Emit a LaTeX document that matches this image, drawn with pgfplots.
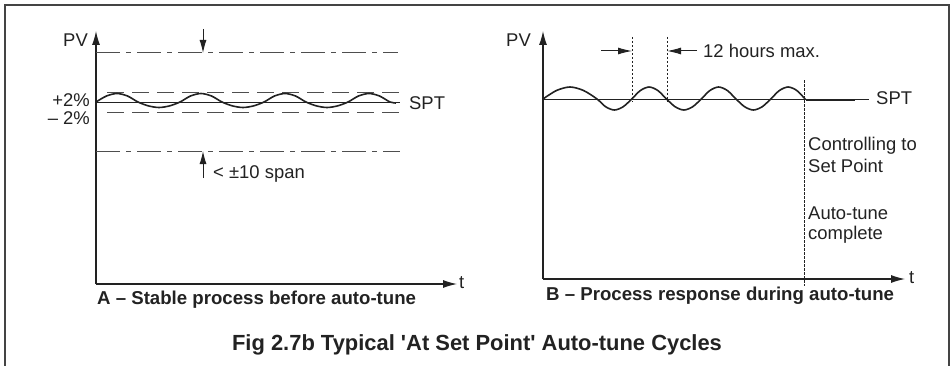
\documentclass[border=0pt]{standalone}
\usepackage{pgfplots}
\pgfplotsset{compat=1.18}
\usetikzlibrary{arrows.meta}
\usepackage{fontspec}
\setmainfont{Liberation Sans}
\definecolor{ink}{HTML}{222222}
\definecolor{frame}{HTML}{444444}
\newcommand\rg{\fontsize{18.5}{22}\selectfont}
\newcommand\bd{\fontsize{18.7}{22}\selectfont\bfseries}
\newcommand\bdl{\fontsize{22}{26}\selectfont\bfseries}
\begin{document}
\begin{tikzpicture}
\begin{axis}[at={(0,0)}, anchor=south west, scale only axis,
  width=952bp, height=366bp, xmin=0, xmax=952, ymin=0, ymax=366,
  y dir=reverse, hide axis, clip=false]
% frame
\addplot[draw=frame, line width=1.5bp] coordinates {(5,372) (5,5) (949,5) (949,372)};

% ---------------- Panel A ----------------
% axes
\addplot[draw=ink, line width=1.1bp, -{Latex[length=14bp,width=8bp]}] coordinates {(96,284) (96,31)};
\addplot[draw=ink, line width=1.1bp, -{Latex[length=14bp,width=8bp]}] coordinates {(96,284) (457,284)};
% dash-dot limits
\addplot[draw=ink!80, line width=1bp, dash pattern=on 24bp off 6bp on 5bp off 6bp] coordinates {(96,53) (398,53)};
\addplot[draw=ink!80, line width=1bp, dash pattern=on 24bp off 6bp on 5bp off 6bp] coordinates {(96,151) (400,151)};
% +/-2% dashed
\addplot[draw=ink!80, line width=1bp, dash pattern=on 17bp off 8bp] coordinates {(107,92) (400,92)};
\addplot[draw=ink!80, line width=1bp, dash pattern=on 17bp off 8bp] coordinates {(107,112) (400,112)};
% SPT line
\addplot[draw=ink, line width=0.9bp] coordinates {(96,102) (400,102)};
% wave A
\addplot[draw=ink, line width=1.6bp, smooth] coordinates {
(96,102) (106.5,96.0) (117,93.5) (127.5,96.0) (138,102)
(148.5,105.9) (159,107.5) (169.5,105.9) (180,102)
(190.5,96.0) (201,93.5) (211.5,96.0) (222,102)
(232.5,105.9) (243,107.5) (253.5,105.9) (264,102)
(274.5,96.0) (285,93.5) (295.5,96.0) (306,102)
(316.5,105.9) (327,107.5) (337.5,105.9) (348,102)
(358.5,96.0) (369,93.5) (379.5,96.0) (390,102) (396,103)};
% span arrows
\addplot[draw=ink, line width=1bp, -{Latex[length=13bp,width=7bp]}] coordinates {(203,29) (203,53)};
\addplot[draw=ink, line width=1bp, -{Latex[length=13bp,width=7bp]}] coordinates {(203,178) (203,151)};
% labels A
\node[anchor=east, inner sep=0, text=ink, font=\rg] at (axis cs:88,40) {PV};
\node[anchor=west, inner sep=0, text=ink, font=\rg] at (axis cs:459,283) {t};
\node[anchor=east, inner sep=0, text=ink, font=\rg] at (axis cs:90,100) {+2\%};
\node[anchor=east, inner sep=0, text=ink, font=\rg] at (axis cs:90,118) {-- 2\%};
\node[anchor=west, inner sep=0, text=ink, font=\rg] at (axis cs:409,103) {SPT};
\node[anchor=west, inner sep=0, text=ink, font=\rg] at (axis cs:213,174) {< ±10 span};
\node[anchor=west, inner sep=0, text=ink, font=\bd] at (axis cs:97,300) {A -- Stable process before auto-tune};

% ---------------- Panel B ----------------
\addplot[draw=ink, line width=1.1bp, -{Latex[length=14bp,width=8bp]}] coordinates {(543,279) (543,31)};
\addplot[draw=ink, line width=1.1bp, -{Latex[length=14bp,width=8bp]}] coordinates {(543,279) (905,279)};
% SPT line
\addplot[draw=ink, line width=0.9bp] coordinates {(543,99) (869,99)};
% wave B
\addplot[draw=ink, line width=1.6bp, smooth] coordinates {
(543,99) (556.5,90.5) (570,87) (583.5,90.5) (597,99)
(605.7,106.8) (614.4,110) (623.1,106.8) (631.75,99)
(640.4,90.5) (649.1,87) (657.8,90.5) (666.5,99)
(675.2,106.8) (683.9,110) (692.6,106.8) (701.25,99)
(709.9,90.5) (718.6,87) (727.3,90.5) (736,99)
(744.7,106.8) (753.4,110) (762.1,106.8) (770.75,99)
(779.4,90.5) (788.1,87) (796.8,90.5) (805.5,99.5)};
\addplot[draw=ink, line width=2bp] coordinates {(805.5,99.5) (855,99.5)};
% dotted verticals
\addplot[draw=ink, line width=0.8bp, dash pattern=on 2.5bp off 1.5bp] coordinates {(632,37) (632,102)};
\addplot[draw=ink, line width=0.8bp, dash pattern=on 2.5bp off 1.5bp] coordinates {(667,37) (667,102)};
\addplot[draw=ink, line width=0.8bp, dash pattern=on 2.5bp off 1.5bp] coordinates {(804,80) (804,286)};
% 12 hours arrows
\addplot[draw=ink, line width=1bp, -{Latex[length=14bp,width=7bp]}] coordinates {(601,51) (632,51)};
\addplot[draw=ink, line width=1bp, -{Latex[length=14bp,width=7bp]}] coordinates {(697,51) (667,51)};
% labels B
\node[anchor=east, inner sep=0, text=ink, font=\rg] at (axis cs:531,40) {PV};
\node[anchor=west, inner sep=0, text=ink, font=\rg] at (axis cs:909,278) {t};
\node[anchor=west, inner sep=0, text=ink, font=\rg] at (axis cs:876,98) {SPT};
\node[anchor=west, inner sep=0, text=ink, font=\rg] at (axis cs:703,51) {12 hours max.};
\node[anchor=west, inner sep=0, text=ink, font=\rg] at (axis cs:808,146) {Controlling to};
\node[anchor=west, inner sep=0, text=ink, font=\rg] at (axis cs:808,166) {Set Point};
\node[anchor=west, inner sep=0, text=ink, font=\rg] at (axis cs:808,213) {Auto-tune};
\node[anchor=west, inner sep=0, text=ink, font=\rg] at (axis cs:808,235) {complete};
\node[anchor=west, inner sep=0, text=ink, font=\bd] at (axis cs:546,296) {B -- Process response during auto-tune};

% main caption
\node[anchor=center, inner sep=0, text=ink, font=\bdl] at (axis cs:477,345) {Fig 2.7b Typical \textquotesingle At Set Point\textquotesingle\ Auto-tune Cycles};
\end{axis}
\pgfresetboundingbox
\path[use as bounding box] (0,0) rectangle (952bp,366bp);
\end{tikzpicture}
\end{document}
